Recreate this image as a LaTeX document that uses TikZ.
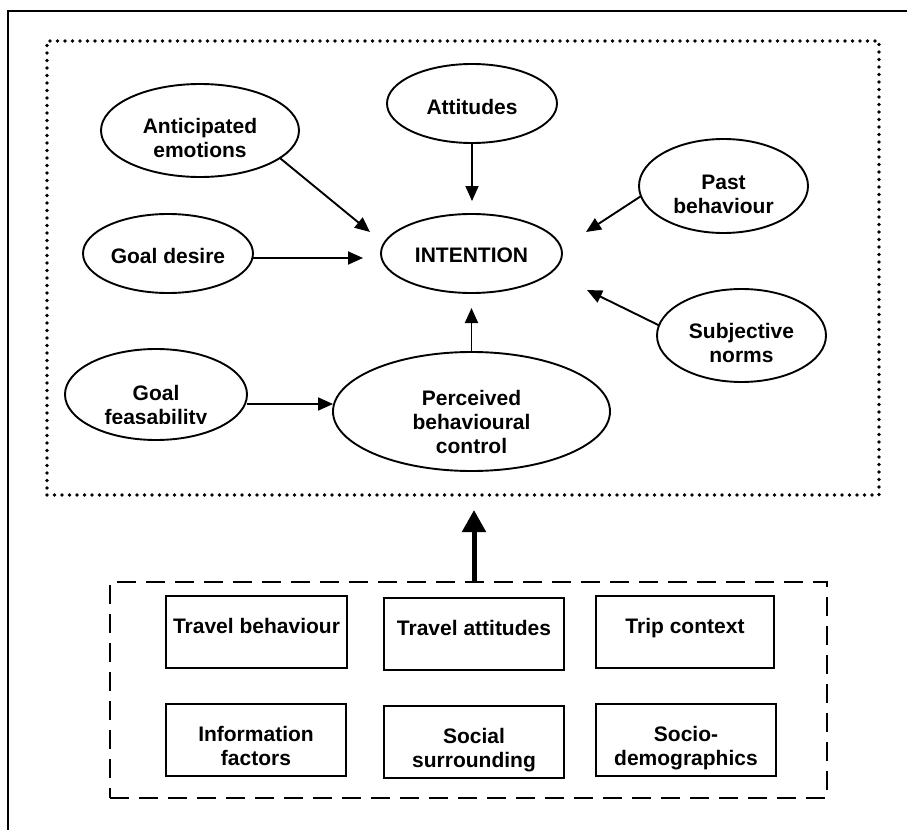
\documentclass[tikz,border=0pt]{standalone}
\usepackage{fontspec}
\setmainfont{Liberation Sans}
\usetikzlibrary{arrows.meta,shapes.geometric}
\begin{document}
\begin{tikzpicture}[x=0.5pt,y=-0.5pt,
  oval/.style={draw, ellipse, line width=0.95pt, inner sep=0pt, outer sep=0pt},
  lbl/.style={font=\fontsize{10.5}{12}\selectfont\bfseries, align=center, inner sep=0pt},
  fbox/.style={draw, rectangle, line width=0.95pt, inner sep=0pt, outer sep=0pt, minimum height=36pt},
  arr/.style={line width=0.95pt, -{Triangle[length=7.5pt,width=6.5pt]}},
  thickarr/.style={line width=2.5pt, -{Triangle[length=11pt,width=11.5pt]}},
  dotbox/.style={draw, rectangle, inner sep=0pt, outer sep=0pt, line width=1.8pt, line cap=round, dash pattern=on 0pt off 3.75pt},
  dashbox/.style={draw, rectangle, inner sep=0pt, outer sep=0pt, line width=1.1pt, dash pattern=on 9.5pt off 5pt}
]
\useasboundingbox (0,0) rectangle (907,830);
% outer frame
\draw[line width=1pt] (8,845) -- (8,11) -- (920,11);
% group boxes
\node[dotbox, minimum width=416pt, minimum height=227pt] (DT) at (463,268) {};
\node[dashbox, minimum width=358.5pt, minimum height=108pt] (DB) at (468.5,690) {};
% ellipses
\node[oval, minimum width=99pt, minimum height=46.5pt] (AE) at (200,130.5) {};
\node[oval, minimum width=85pt, minimum height=39.5pt] (AT) at (472,103.5) {};
\node[oval, minimum width=85pt, minimum height=39.5pt] (GD) at (168,253.5) {};
\node[oval, minimum width=90.5pt, minimum height=39.5pt] (IN) at (471.5,253.5) {};
\node[oval, minimum width=84.5pt, minimum height=47pt] (PB) at (723.5,186) {};
\node[oval, minimum width=84.5pt, minimum height=46.5pt] (SN) at (741.5,335.5) {};
\node[oval, minimum width=91pt, minimum height=45.5pt] (GF) at (156,394.5) {};
\node[oval, minimum width=138.5pt, minimum height=59.5pt] (PBC) at (471.5,411.5) {};
% ellipse labels
\node[lbl] (lAE) at (200,137.5) {Anticipated\\emotions};
\node[lbl] (lAT) at (472,106.5) {Attitudes};
\node[lbl] (lGD) at (168,255.5) {Goal desire};
\node[lbl] (lIN) at (471.5,255.5) {INTENTION};
\node[lbl] (lPB) at (723.5,194.5) {Past\\behaviour};
\node[lbl] (lSN) at (741.5,342.5) {Subjective\\norms};
\begin{scope}
  \clip (0,0) rectangle (907,423);
  \node[lbl] (lGF) at (156,406.7) {Goal\\feasability};
\end{scope}
\begin{scope}
  \clip (0,0) rectangle (907,453);
  \node[lbl] (lPBC) at (471.5,421.5) {Perceived\\behavioural\\control};
\end{scope}
% arrow tips
\coordinate (pAE) at (370,232);
\coordinate (pAT) at (472,201);
\coordinate (pGD) at (363,258);
\coordinate (pPB) at (586,232);
\coordinate (pSN) at (587,290);
\coordinate (pPBC) at (471.5,308);
\coordinate (pGF) at (333,404);
\coordinate (pTH) at (474,510);
% arrows
\draw[arr] (AE.-19) -- (pAE);
\draw[arr] (AT.south) -- (pAT);
\draw[arr] (GD.east |- pGD) -- (pGD);
\draw[arr] (PB.187) -- (pPB);
\draw[arr] (SN.173.6) -- (pSN);
\draw[arr] (PBC.north) -- (pPBC);
\draw[arr] (GF.east |- pGF) -- (PBC.west |- pGF);
\draw[thickarr] (pTH |- DB.north) -- (pTH);
% factor boxes
\node[fbox, minimum width=90.5pt] (TB) at (256.5,632) {};
\node[fbox, minimum width=90pt] (TA) at (474,634) {};
\node[fbox, minimum width=89pt] (TC) at (685,632) {};
\node[fbox, minimum width=90pt] (IF) at (256,740) {};
\node[fbox, minimum width=90pt] (SS) at (474,742) {};
\node[fbox, minimum width=90pt] (SD) at (686,740) {};
\node[lbl] (lTB) at (256.5,625.5) {Travel behaviour};
\node[lbl] (lTA) at (474,627.5) {Travel attitudes};
\node[lbl] (lTC) at (685,627.7) {Trip context};
\node[lbl] (lIF) at (256,745.5) {Information\\factors};
\node[lbl] (lSS) at (474,749.7) {Social\\surrounding};
\node[lbl] (lSD) at (686,747.7) {Socio-\\demographics};
\end{tikzpicture}
\end{document}
